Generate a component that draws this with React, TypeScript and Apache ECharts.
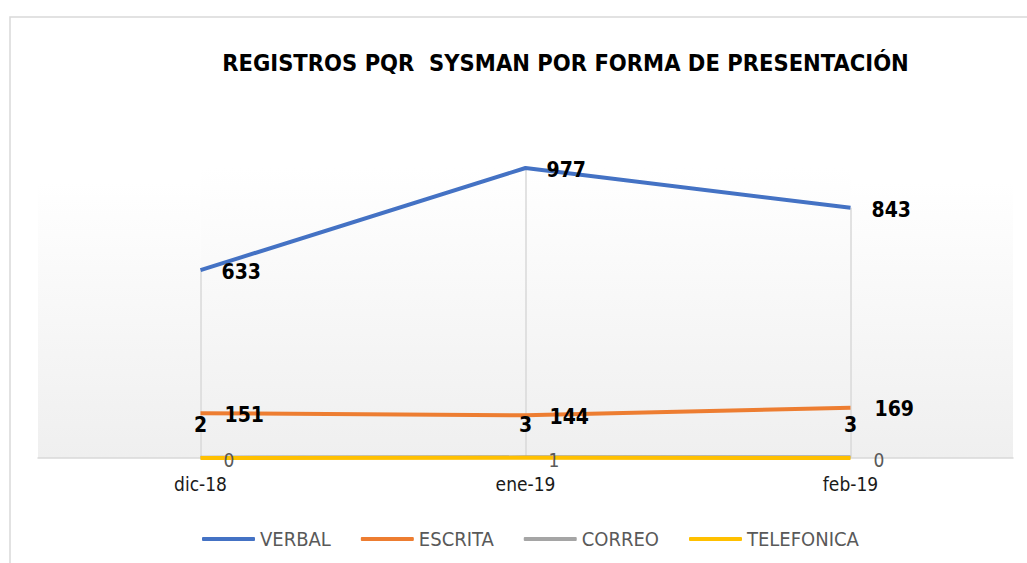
import React, { useEffect, useRef } from "react";
import * as echarts from "echarts";

const categories = ["dic-18", "ene-19", "feb-19"];
const verbal = [633, 977, 843];
const escrita = [151, 144, 169];
const correo = [2, 3, 3];
const telefonica = [0, 1, 0];
const seriesNames = ["VERBAL", "ESCRITA", "CORREO", "TELEFONICA"];
const titleText = "REGISTROS PQR  SYSMAN POR FORMA DE PRESENTACIÓN";

const FONT = "'DejaVu Sans Condensed', 'DejaVu Sans', sans-serif";
const colors = ["#4472C4", "#ED7D31", "#A5A5A5", "#FFC000"];

export default function App() {
  const ref = useRef<HTMLDivElement>(null);
  useEffect(() => {
    if (!ref.current) return;
    const chart = echarts.init(ref.current, null, { renderer: "svg" });
    const boldLabel = (pos: any, distance: number, offset: number[]) => ({
      show: true,
      position: pos,
      distance,
      offset,
      color: "#000000",
      fontWeight: "bold",
      fontSize: 21,
      fontFamily: FONT,
    });
    const option: any = {
      animation: false,
      backgroundColor: "#ffffff",
      color: colors,
      title: {
        text: titleText,
        left: 560.5,
        top: 46,
        textAlign: "center",
        textStyle: { fontFamily: FONT, fontWeight: "bold", fontSize: 23.5, color: "#000000" },
      },
      legend: {
        left: 197,
        top: 524,
        itemWidth: 53,
        itemHeight: 4,
        itemGap: 30,
        icon: "roundRect",
        data: seriesNames,
        textStyle: { fontFamily: FONT, fontSize: 20, color: "#595959" },
      },
      grid: { left: 38, right: 14, top: 161.2, bottom: 105 },
      xAxis: {
        type: "category",
        data: categories,
        boundaryGap: true,
        axisTick: { show: false },
        axisLine: { lineStyle: { color: "#d9d9d9", width: 1.5 } },
        axisLabel: { margin: 16, fontFamily: FONT, fontSize: 19, color: "#1a1a1a" },
        splitLine: { show: false },
      },
      yAxis: { type: "value", min: 0, max: 1000, show: false },
      series: [
        {
          name: seriesNames[0],
          type: "line",
          data: verbal,
          symbol: "circle",
          symbolSize: 0,
          lineStyle: { width: 4, color: colors[0] },
          itemStyle: { color: colors[0] },
          label: boldLabel("right", 21, [0, 2]),
          emphasis: { disabled: true },
          z: 4,
          markLine: {
            silent: true,
            z: 1,
            symbol: ["none", "none"],
            label: { show: false },
            lineStyle: { color: "#d9d9d9", width: 1.5, type: "solid" },
            emphasis: { disabled: true },
            data: categories.map((c, i) => [{ coord: [c, verbal[i]] }, { coord: [c, 0] }]),
          },
        },
        {
          name: seriesNames[1],
          type: "line",
          data: escrita,
          symbol: "circle",
          symbolSize: 0,
          lineStyle: { width: 4, color: colors[1] },
          itemStyle: { color: colors[1] },
          label: boldLabel("right", 24, [0, 1.5]),
          emphasis: { disabled: true },
          z: 4,
        },
        {
          name: seriesNames[2],
          type: "line",
          data: correo,
          symbol: "circle",
          symbolSize: 0,
          lineStyle: { width: 3.5, color: colors[2] },
          itemStyle: { color: colors[2] },
          label: boldLabel("top", 22, [0, 0]),
          emphasis: { disabled: true },
          z: 4,
        },
        {
          name: seriesNames[3],
          type: "line",
          data: telefonica,
          symbol: "circle",
          symbolSize: 0,
          lineStyle: { width: 4, color: colors[3] },
          itemStyle: { color: colors[3] },
          label: {
            show: true,
            position: "right",
            distance: 23,
            offset: [0, 2],
            color: "#595959",
            fontSize: 19,
            fontFamily: FONT,
          },
          emphasis: { disabled: true },
          z: 5,
        },
      ],
    };
    chart.setOption(option);

    // decorative plot wall, aligned to the axis scale
    const xs = categories.map((c) => chart.convertToPixel({ xAxisIndex: 0 }, c) as number);
    const y0 = chart.convertToPixel({ yAxisIndex: 0 }, 0) as number;
    const gridLeft = 38;
    const gridRight = 1027 - 14;
    const grad = {
      type: "linear",
      x: 0,
      y: 0,
      x2: 0,
      y2: 1,
      colorStops: [
        { offset: 0, color: "#ffffff" },
        { offset: 1, color: "#efefef" },
      ],
    };
    const sideTop = 182;
    const midTop = 168;
    chart.setOption({
      graphic: [
        {
          type: "rect",
          z: -20,
          silent: true,
          shape: { x: 10, y: 17, width: 1300, height: 800 },
          style: { fill: "#ffffff", stroke: "#d9d9d9", lineWidth: 1.5 },
        },
        {
          type: "rect",
          z: -10,
          silent: true,
          shape: { x: gridLeft, y: sideTop, width: xs[0] - gridLeft, height: y0 - sideTop },
          style: { fill: grad },
        },
        {
          type: "rect",
          z: -10,
          silent: true,
          shape: { x: xs[0], y: midTop, width: xs[2] - xs[0], height: y0 - midTop },
          style: { fill: grad },
        },
        {
          type: "rect",
          z: -10,
          silent: true,
          shape: { x: xs[2], y: sideTop, width: gridRight - xs[2], height: y0 - sideTop },
          style: { fill: grad },
        },
      ],
    });
    return () => chart.dispose();
  }, []);
  return (
    <div
      ref={ref}
      style={{ position: "absolute", left: 0, top: 0, width: 1027, height: 563 }}
    />
  );
}
